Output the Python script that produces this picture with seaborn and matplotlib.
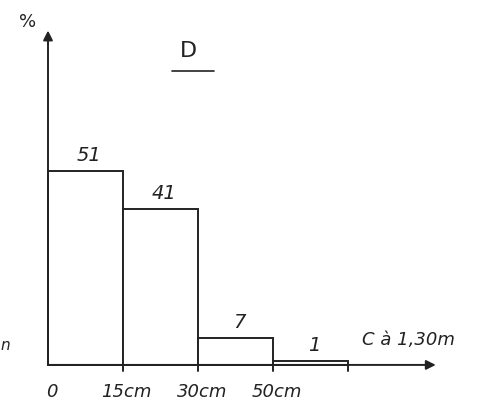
import seaborn as sns
import pandas as pd
import matplotlib.pyplot as plt

# classes de circonférence à 1,30 m et pourcentages
classes = ["0-15", "15-30", "30-50", "50+"]
pourcent = [51, 41, 7, 1]
ticks = ["0", "15cm", "30cm", "50cm"]

df = pd.DataFrame({"classe": classes, "pct": pourcent})

sns.set_style("white")
plt.rcParams['font.family'] = ['DejaVu Sans']

fig = plt.figure(figsize=(4.86, 4.10), dpi=100)
ax = fig.add_axes([0, 0, 1, 1])

sns.barplot(data=df, x="classe", y="pct", ax=ax, width=1.0,
            color="white", edgecolor="#222222", linewidth=1.4)

ax.set_xlim(-1.14, 5.34)
ax.set_ylim(-11.6, 96.3)
ax.axis("off")

lw = 1.4
# axes avec flèches
ax.annotate("", xy=(-0.5, 88), xytext=(-0.5, 0),
            arrowprops=dict(arrowstyle="-|>", color="#222222", lw=lw,
                            mutation_scale=14, shrinkA=0, shrinkB=0))
ax.annotate("", xy=(4.67, 0), xytext=(-0.5, 0),
            arrowprops=dict(arrowstyle="-|>", color="#222222", lw=lw,
                            mutation_scale=14, shrinkA=0, shrinkB=0))

# petites graduations
for i in range(len(classes)):
    ax.plot([i + 0.5, i + 0.5], [0, -1.5], color="#222222", lw=lw)

# valeurs
for i, v in enumerate(pourcent):
    ax.text(i + 0.05, v + 2, str(v), ha="center", va="bottom",
            fontsize=14, style="italic", color="#222222")

# étiquettes de l'axe x
for i, t in enumerate(ticks):
    ax.text(i - 0.45, -4.5, t, ha="center", va="top",
            fontsize=13, style="italic", color="#222222")

ax.text(-0.77, 90.5, "%", ha="center", va="center", fontsize=13, color="#222222")
ax.text(3.69, 4.5, "C à 1,30m", ha="left", va="bottom",
        fontsize=13, style="italic", color="#222222")
ax.text(1.37, 83, "D", ha="center", va="center", fontsize=16, color="#222222")
ax.plot([1.15, 1.71], [77.4, 77.4], color="#222222", lw=1.2)
ax.text(-1.13, 5.5, "n", ha="left", va="center", fontsize=11,
        style="italic", color="#222222")

fig.savefig("out.png", dpi=100, facecolor="white")
